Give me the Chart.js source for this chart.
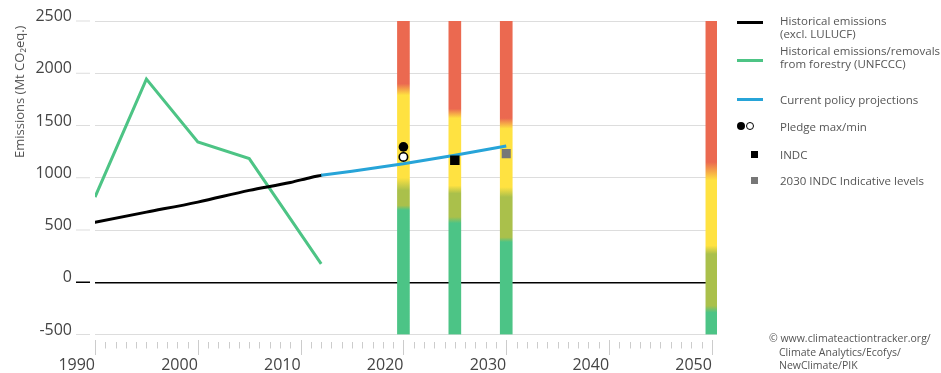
<!DOCTYPE html>
<html><head><meta charset="utf-8">
<script src="https://cdn.jsdelivr.net/npm/chart.js@4.4.1/dist/chart.umd.min.js"></script>
<style>
html,body{margin:0;padding:0;background:#fff;}
#wrap{position:relative;width:941px;height:373px;overflow:hidden;font-family:"Open Sans",sans-serif;}
canvas{position:absolute;left:0;top:0;}
.lg{position:absolute;color:#555;font-size:11.5px;line-height:13px;white-space:nowrap;}
.ln{position:absolute;height:3px;width:26px;}
.dot{position:absolute;border-radius:50%;box-sizing:border-box;}
.sq{position:absolute;}
#copy{position:absolute;left:769px;top:332px;color:#555;font-size:10.5px;line-height:13.5px;padding-left:10px;text-indent:-10px;white-space:nowrap;}
#ytitle{position:absolute;left:11px;top:158px;transform-origin:0 0;transform:rotate(-90deg);color:#555;font-size:13px;line-height:16px;white-space:nowrap;}
</style></head><body>
<div id="wrap">
<canvas id="c" width="941" height="373"></canvas>
<div id="ytitle">Emissions (Mt CO₂eq.)</div>
<div class="ln" style="left:737px;top:21.3px;background:#000"></div>
<div class="lg" style="left:780px;top:13.5px">Historical emissions<br>(excl. LULUCF)</div>
<div class="ln" style="left:737px;top:59.3px;background:#4DC485"></div>
<div class="lg" style="left:780px;top:43.5px">Historical emissions/removals<br>from forestry (UNFCCC)</div>
<div class="ln" style="left:737px;top:97.5px;background:#27A4D8"></div>
<div class="lg" style="left:780px;top:92.5px">Current policy projections</div>
<div class="dot" style="left:736.5px;top:121.8px;width:8.5px;height:8.5px;background:#000"></div>
<div class="dot" style="left:745.5px;top:121.8px;width:8.5px;height:8.5px;border:1.7px solid #000;background:#fff"></div>
<div class="lg" style="left:780px;top:119.5px">Pledge max/min</div>
<div class="sq" style="left:750.6px;top:150.6px;width:7.3px;height:7.3px;background:#000"></div>
<div class="lg" style="left:780px;top:147.5px">INDC</div>
<div class="sq" style="left:750.9px;top:177.3px;width:6.8px;height:6.8px;background:#777"></div>
<div class="lg" style="left:780px;top:173.5px">2030 INDC Indicative levels</div>
<div id="copy">© www.climateactiontracker.org/<br>Climate Analytics/Ecofys/<br>NewClimate/PIK</div>
</div>
<script>
// ---- data ----
const histYears = [1990, 1995, 2000, 2005, 2009, 2011, 2012];
const histValues = [575, 671, 767, 879, 955, 1003, 1023];
const forestYears = [1990, 1995, 2000, 2005, 2012];
const forestValues = [815, 1944, 1342, 1183, 176];
const cppYears = [2012, 2015, 2020, 2025, 2030];
const cppValues = [1023, 1063, 1133, 1215, 1304];
const pledgeYear = [2020];
const pledgeMax = [1295];
const pledgeMin = [1199];
const indcYear = [2025];
const indcValue = [1167];
const indicativeYear = [2030];
const indicativeValue = [1231];
// rating bars (value range and colour band boundaries)
const barYears = [2020, 2025, 2030, 2050];
const barBottom = [-500, -500, -500, -500];
const barTop = [2500, 2500, 2500, 2500];
const redEnd = [1900, 1660, 1570, 1150];
const yellowStart = [1790, 1570, 1470, 975];
const yellowEnd = [1000, 925, 910, 350];
const oliveStart = [880, 850, 815, 270];
const oliveEnd = [735, 625, 430, -225];
const greenStart = [690, 565, 385, -290];
// axes
const yTicks = [-500, 0, 500, 1000, 1500, 2000, 2500];
const xLabelYears = [1990, 2000, 2010, 2020, 2030, 2040, 2050];
const xMinorYears = [];
for (let yr = 1990; yr <= 2050; yr++) xMinorYears.push(yr);

const RED = '#EB6950', YELLOW = '#FFE241', OLIVE = '#AAC04B', GREEN = '#4CC486';

function pts(xs, ys) { return xs.map((x, i) => ({x: x, y: ys[i]})); }

function barGradient(ctx) {
  const chart = ctx.chart;
  if (!chart.chartArea || ctx.dataIndex === undefined) return GREEN;
  const y = chart.scales.y, i = ctx.dataIndex;
  const top = y.getPixelForValue(barTop[i]), bot = y.getPixelForValue(barBottom[i]);
  const f = v => Math.min(1, Math.max(0, (y.getPixelForValue(v) - top) / (bot - top)));
  const g = chart.ctx.createLinearGradient(0, top, 0, bot);
  g.addColorStop(0, RED);
  g.addColorStop(f(redEnd[i]), RED);
  g.addColorStop(f(yellowStart[i]), YELLOW);
  g.addColorStop(f(yellowEnd[i]), YELLOW);
  g.addColorStop(f(oliveStart[i]), OLIVE);
  g.addColorStop(f(oliveEnd[i]), OLIVE);
  g.addColorStop(f(greenStart[i]), GREEN);
  g.addColorStop(1, GREEN);
  return g;
}

const tickMarks = {
  id: 'tickMarks',
  afterDraw(chart) {
    const c = chart.ctx, a = chart.chartArea, xs = chart.scales.x, ys = chart.scales.y;
    c.save();
    c.lineWidth = 1;
    c.strokeStyle = '#cccccc';
    xMinorYears.forEach(yr => {
      const px = Math.round(xs.getPixelForValue(yr)) + 0.5;
      const major = yr % 10 === 0;
      c.beginPath();
      c.moveTo(px, a.bottom + (major ? 5.5 : 7.5));
      c.lineTo(px, a.bottom + (major ? 20.5 : 14));
      c.stroke();
    });
    yTicks.forEach(v => {
      const py = ys.getPixelForValue(v);
      c.strokeStyle = v === 0 ? '#000' : '#dddddd';
      c.lineWidth = v === 0 ? 1.5 : 1;
      c.beginPath();
      c.moveTo(a.left - 19, py);
      c.lineTo(a.left - 5, py);
      c.stroke();
    });
    c.restore();
  }
};

new Chart(document.getElementById('c'), {
  type: 'line',
  data: {
    datasets: [
      {label: 'Pledge max', data: pts(pledgeYear, pledgeMax), showLine: false, pointStyle: 'circle',
       pointRadius: 4.8, pointBackgroundColor: '#000', pointBorderColor: '#000', pointBorderWidth: 0, order: 0},
      {label: 'Pledge min', data: pts(pledgeYear, pledgeMin), showLine: false, pointStyle: 'circle',
       pointRadius: 4.2, pointBackgroundColor: '#fff', pointBorderColor: '#000', pointBorderWidth: 1.6, order: 0},
      {label: 'INDC', data: pts(indcYear, indcValue), showLine: false, pointStyle: 'rect',
       pointRadius: 6.7, pointBackgroundColor: '#000', pointBorderWidth: 0, order: 0},
      {label: '2030 INDC Indicative levels', data: pts(indicativeYear, indicativeValue), showLine: false, pointStyle: 'rect',
       pointRadius: 6.4, pointBackgroundColor: '#777', pointBorderWidth: 0, order: 0},
      {label: 'Current policy projections', data: pts(cppYears, cppValues), borderColor: '#27A4D8', borderWidth: 3,
       pointRadius: 0, tension: 0, fill: false, order: 1},
      {label: 'Historical emissions', data: pts(histYears, histValues), borderColor: '#000', borderWidth: 3,
       pointRadius: 0, cubicInterpolationMode: 'monotone', fill: false, order: 1, borderCapStyle: 'round'},
      {label: 'Forestry', data: pts(forestYears, forestValues), borderColor: '#4DC485', borderWidth: 3,
       pointRadius: 0, tension: 0, fill: false, order: 2},
      {type: 'bar', label: 'Rating', data: barYears.map((x, i) => ({x: x, y: [barBottom[i], barTop[i]]})),
       backgroundColor: barGradient, borderWidth: 0, barThickness: 12, order: 3, grouped: false}
    ]
  },
  options: {
    responsive: false,
    animation: false,
    devicePixelRatio: 1,
    events: [],
    layout: {padding: {left: 0, top: 21, right: 224, bottom: 0}},
    plugins: {legend: {display: false}, tooltip: {enabled: false}},
    scales: {
      x: {
        type: 'linear', min: 1990, max: 2050.5, offset: false,
        grid: {display: false}, border: {display: false},
        afterBuildTicks: s => { s.ticks = xLabelYears.map(v => ({value: v})); },
        afterFit: s => { s.height = 38.5; },
        ticks: {align: 'end', padding: 13.5, maxRotation: 0, autoSkip: false, color: '#444',
                font: {family: 'Open Sans', size: 16}, callback: v => String(v)}
      },
      y: {
        min: -500, max: 2500,
        afterBuildTicks: s => { s.ticks = yTicks.map(v => ({value: v})); },
        afterFit: s => { s.width = 95; },
        border: {display: false},
        grid: {drawTicks: true, tickLength: 23, tickColor: 'rgba(0,0,0,0)',
               color: c => (c.tick && c.tick.value === 0) ? '#000' : '#dddddd',
               lineWidth: c => (c.tick && c.tick.value === 0) ? 1.5 : 1},
        ticks: {padding: 0, labelOffset: -4.5, color: '#444', font: {family: 'Open Sans', size: 16},
                callback: v => String(v)},
        title: {display: false}
      }
    }
  },
  plugins: [tickMarks]
});
</script>
</body></html>
